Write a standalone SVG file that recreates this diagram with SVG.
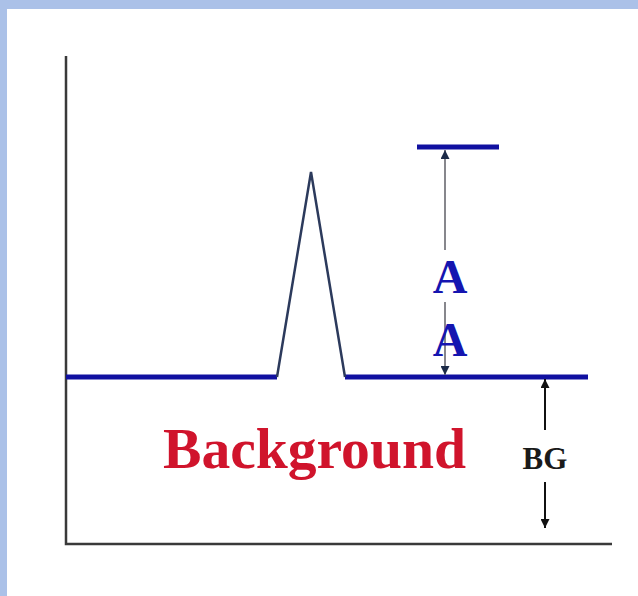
<svg xmlns="http://www.w3.org/2000/svg" width="638" height="596" viewBox="0 0 638 596">
<style>
.axis{stroke:#3a3a3a;stroke-width:2.5;fill:none}
.sig{stroke:#1010a0;stroke-width:5;fill:none}
.peak{stroke:#2c3a5c;stroke-width:2.5;fill:none;stroke-linejoin:miter}
.dimA{stroke:#7a7a80;stroke-width:1.8;fill:none}
.dimBG{stroke:#111;stroke-width:2;fill:none}
.lblA{font-family:"Liberation Serif",serif;font-weight:bold;font-size:48px;fill:#1515b0;text-anchor:middle}
.lblBG{font-family:"Liberation Serif",serif;font-weight:bold;font-size:31px;fill:#1a1a1a;text-anchor:middle}
.lblBack{font-family:"Liberation Serif",serif;font-weight:bold;font-size:57px;fill:#d0142c}
</style>
<defs>
<marker id="ahA" viewBox="0 0 10 10" refX="10" refY="5" markerWidth="9" markerHeight="9" markerUnits="userSpaceOnUse" orient="auto"><path d="M0,0 L10,5 L0,10 z" fill="#1c2a48"/></marker>
<marker id="ahBG" viewBox="0 0 10 10" refX="10" refY="5" markerWidth="9" markerHeight="9" markerUnits="userSpaceOnUse" orient="auto"><path d="M0,0 L10,5 L0,10 z" fill="#111"/></marker>
</defs>
<rect x="0" y="0" width="638" height="596" fill="#ffffff"/>
<rect x="0" y="0" width="638" height="9" fill="#abc1e8"/>
<rect x="0" y="0" width="7" height="596" fill="#abc1e8"/>
<g id="axes">
<path class="axis" d="M66,56 L66,544 L612,544"/>
</g>
<g id="signal">
<path class="sig" d="M66,377 L277,377"/>
<path class="sig" d="M345,377 L588,377"/>
<path class="peak" d="M277,377 L311,172 L345,377"/>
</g>
<g id="topbar">
<path class="sig" d="M417,147 L499,147"/>
</g>
<g id="connectors">
<path class="dimA" d="M445,250 L445,150" marker-end="url(#ahA)"/>
<path class="dimA" d="M445,302 L445,375" marker-end="url(#ahA)"/>
<path class="dimBG" d="M545,430 L545,379" marker-end="url(#ahBG)"/>
<path class="dimBG" d="M545,482 L545,528" marker-end="url(#ahBG)"/>
</g>
<g id="labelA">
<text class="lblA" x="450" y="293">A</text>
<text class="lblA" x="450" y="356">A</text>
</g>
<g id="labelBG">
<text class="lblBG" x="545" y="469">BG</text>
</g>
<g id="labelBackground">
<text class="lblBack" x="163" y="468" textLength="303" lengthAdjust="spacingAndGlyphs">Background</text>
</g>
</svg>
